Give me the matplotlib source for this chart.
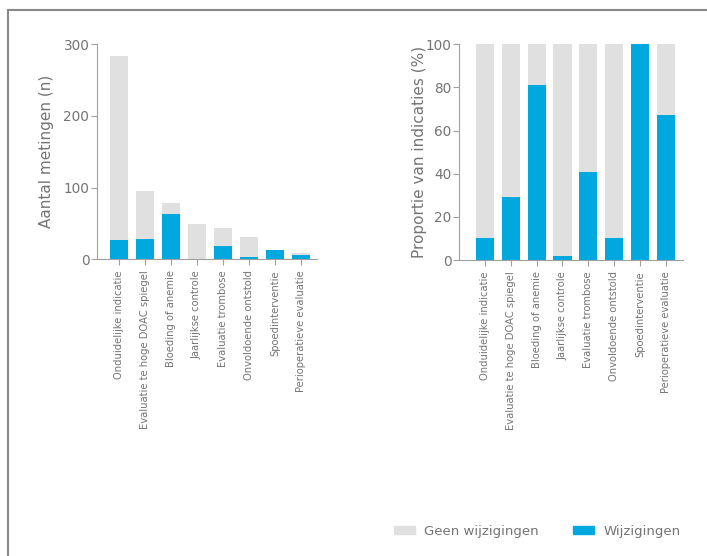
import matplotlib.pyplot as plt
from matplotlib.patches import Rectangle, Patch

categories = [
    "Onduidelijke indicatie",
    "Evaluatie te hoge DOAC spiegel",
    "Bloeding of anemie",
    "Jaarlijkse controle",
    "Evaluatie trombose",
    "Onvoldoende ontstold",
    "Spoedinterventie",
    "Perioperatieve evaluatie",
]
totaal = [284, 95, 79, 49, 44, 31, 13, 9]
wijzigingen = [27, 28, 63, 1, 18, 3, 13, 6]
pct_wijzigingen = [10.3, 29.3, 81.0, 2.0, 40.7, 10.3, 100.0, 67.4]

BLUE = "#00a8e0"
GREY = "#e0e0e0"
AXC = "#a0a0a0"
TXT = "#747474"

plt.rcParams["font.family"] = "DejaVu Sans"

fig = plt.figure(figsize=(7.07, 5.56), dpi=100)
W, H = 707, 556


def axes_px(x0, y0, x1, y1):
    return fig.add_axes([x0 / W, 1 - y1 / H, (x1 - x0) / W, (y1 - y0) / H])


ax1 = axes_px(97, 44.3, 317, 259.3)
ax2 = axes_px(459, 44.3, 683, 260)

x = list(range(len(categories)))
geen = [t - w for t, w in zip(totaal, wijzigingen)]
pct_geen = [100 - p for p in pct_wijzigingen]

ax1.bar(x, wijzigingen, width=0.69, color=BLUE)
ax1.bar(x, geen, bottom=wijzigingen, width=0.69, color=GREY)
ax1.set_xlim(-0.85, 7.62)
ax1.set_ylim(0, 300)
ax1.set_yticks([0, 100, 200, 300])
ax1.set_ylabel("Aantal metingen (n)", fontsize=11, color=TXT)
ax1.yaxis.set_label_coords(-0.195, 0.5)

ax2.bar(x, pct_wijzigingen, width=0.70, color=BLUE)
ax2.bar(x, pct_geen, bottom=pct_wijzigingen, width=0.70, color=GREY)
ax2.set_xlim(-1.0, 7.66)
ax2.set_ylim(0, 100)
ax2.set_yticks([0, 20, 40, 60, 80, 100])
ax2.set_ylabel("Proportie van indicaties (%)", fontsize=11, color=TXT)
ax2.yaxis.set_label_coords(-0.143, 0.5)

for ax in (ax1, ax2):
    ax.set_xticks(x)
    ax.set_xticklabels(categories, rotation=90, fontsize=7.2, color=TXT)
    ax.tick_params(axis="y", labelsize=9.8, labelcolor=TXT, color=AXC,
                   length=4, pad=1.5)
    ax.tick_params(axis="x", color=AXC, length=4, pad=4)
    ax.spines[["top", "right"]].set_visible(False)
    ax.spines[["left", "bottom"]].set_color(AXC)

fig.legend(
    handles=[Patch(color=GREY, label="Geen wijzigingen"),
             Patch(color=BLUE, label="Wijzigingen")],
    loc="center left", bbox_to_anchor=(394 / W, 1 - 531 / H),
    ncol=2, frameon=False, fontsize=9.5, labelcolor=TXT,
    borderpad=0, borderaxespad=0,
    handlelength=1.6, handleheight=0.5, columnspacing=2.6, handletextpad=0.7,
)

# outer frame, partly outside the canvas
fig.patches.append(Rectangle((8 / W, -0.1), 1.2, 1 - 9.5 / H + 0.1,
                             transform=fig.transFigure, fill=False,
                             edgecolor="#888888", linewidth=1.5))

fig.savefig("out.png", dpi=100)
